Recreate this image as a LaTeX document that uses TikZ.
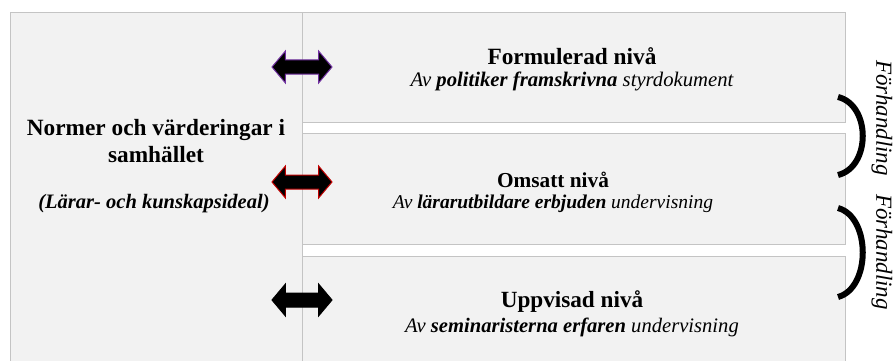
\documentclass[tikz,border=0pt]{standalone}
\usepackage{fontspec}
\setmainfont{Liberation Serif}
\usetikzlibrary{shapes.arrows}
\definecolor{boxfill}{HTML}{F2F2F2}
\definecolor{boxline}{HTML}{C4C4C4}
\definecolor{purp}{HTML}{7030A0}
\definecolor{dred}{HTML}{C00000}
\tikzset{
  panel/.style={draw=boxline, fill=boxfill, line width=1pt, anchor=north west, inner sep=0pt},
  title/.style={font=\fontsize{23}{26}\selectfont\bfseries, inner sep=0pt},
  subtitle/.style={font=\fontsize{20}{23}\selectfont\itshape, inner sep=0pt},
  dblarrow/.style={double arrow, fill=black, line width=1pt, inner xsep=0pt, inner ysep=6.5pt,
    minimum width=31pt, minimum height=60pt, double arrow head extend=9pt,
    double arrow tip angle=100},
  brace/.style={line width=6pt, black},
  sidelabel/.style={font=\fontsize{23}{26}\selectfont\itshape, rotate=-90, inner sep=0pt}
}
\begin{document}
\begin{tikzpicture}[x=1pt,y=-1pt]
\useasboundingbox[fill=white] (0,0) rectangle (896,361);
% panels
\node[panel, minimum width=292pt, minimum height=354pt] (left) at (10,12) {};
\node[panel, minimum width=543pt, minimum height=110pt] (p1) at (302,12) {};
\node[panel, minimum width=543pt, minimum height=111pt] (p2) at (302,133) {};
\node[panel, minimum width=543pt, minimum height=110pt] (p3) at (302,256) {};
% left texts
\node[inner sep=0pt, align=center, font=\fontsize{23.3}{27}\selectfont\bfseries] (norm) at (156,141) {Normer och värderingar i\\samhället};
\node[inner sep=0pt, font=\fontsize{20.5}{23}\selectfont\bfseries\itshape] (ideal) at (154,204) {(Lärar- och kunskapsideal)};
% right texts
\node[title, font=\fontsize{23.3}{26}\selectfont\bfseries] (t1) at (572,56) {Formulerad nivå};
\node[subtitle, font=\fontsize{20.7}{23}\selectfont\itshape] (s1) at (572,81) {Av \textbf{politiker framskrivna} styrdokument};
\node[title, font=\fontsize{21.3}{24}\selectfont\bfseries] (t2) at (553,180) {Omsatt nivå};
\node[subtitle, font=\fontsize{19.5}{22}\selectfont\itshape] (s2) at (553,204) {Av \textbf{lärarutbildare erbjuden} undervisning};
\node[title, font=\fontsize{23.2}{26}\selectfont\bfseries] (t3) at (572,302) {Uppvisad nivå};
\node[subtitle, font=\fontsize{20.6}{23}\selectfont\itshape] (s3) at (572,327) {Av \textbf{seminaristerna erfaren} undervisning};
% arrows
\node[dblarrow, draw=purp] (a1) at (302,67) {};
\node[dblarrow, draw=dred] (a2) at (302,182) {};
\node[dblarrow, draw=black] (a3) at (302,300) {};
% braces
\coordinate (b1s) at (838,97);
\coordinate (b1e) at (838,175);
\coordinate (b2s) at (838,208);
\coordinate (b2e) at (838,297);
\draw[brace] (b1s) .. controls (871,105) and (871,167) .. (b1e);
\draw[brace] (b2s) .. controls (871,217) and (871,288) .. (b2e);
\node[sidelabel] (f1) at (882,118) {Förhandling};
\node[sidelabel] (f2) at (882,252) {Förhandling};
\end{tikzpicture}
\end{document}
